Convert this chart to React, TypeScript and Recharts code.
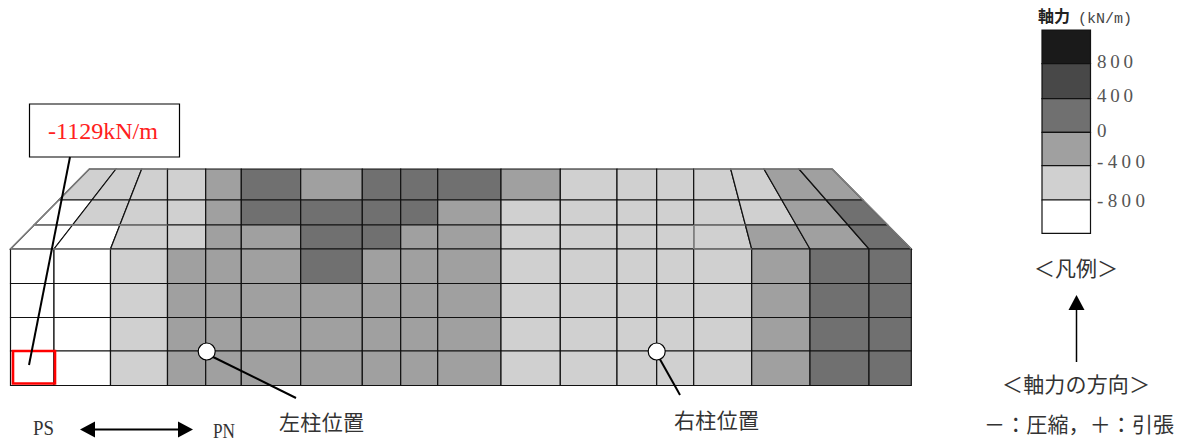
import { ComposedChart, XAxis, YAxis, Line, ReferenceArea, ReferenceLine, ReferenceDot } from "recharts"

const WIDTH = 1187
const HEIGHT = 443

// Force bands, from the weakest to the strongest (white = below -800)
const bandColors = ["#ffffff", "#d0d0d0", "#a0a0a0", "#707070", "#484848", "#1a1a1a"]
const legendTicks = ["800", "400", "0", "-400", "-800"]

// Mesh edges: front face of the wall and far edge of the top face
const frontEdges = [10.5, 54, 110.5, 167.5, 205.7, 241.3, 300.7, 362.3, 400.7, 437.7, 501, 560.3, 617, 656.7, 693.7, 751.7, 810, 869, 911.3]
const backEdges = [89.3, 116, 141.7, 167.5, 205.7, 241.3, 300.7, 362.3, 400.7, 437.7, 501, 560.3, 617, 656.7, 693.7, 730.7, 764, 799, 832.3]
const topRowEdges = [169, 200, 225, 249]
const frontRowEdges = [249, 283.5, 317.5, 351, 385.5]

// Band index of each cell, one list per row
const topRow1 = [1, 1, 1, 1, 2, 3, 2, 3, 3, 3, 2, 1, 1, 1, 1, 1, 2, 2]
const topRow2 = [0, 1, 1, 1, 2, 3, 3, 3, 3, 2, 1, 1, 1, 1, 1, 1, 2, 3]
const topRow3 = [0, 0, 1, 1, 2, 2, 3, 3, 2, 2, 1, 1, 1, 1, 1, 2, 2, 3]
const frontRow1 = [0, 0, 1, 2, 2, 2, 3, 2, 2, 2, 1, 1, 1, 1, 1, 2, 3, 3]
const frontRow2 = [0, 0, 1, 2, 2, 2, 2, 2, 2, 2, 1, 1, 1, 1, 1, 2, 3, 3]
const frontRow3 = [0, 0, 1, 2, 2, 2, 2, 2, 2, 2, 1, 1, 1, 1, 1, 2, 3, 3]
const frontRow4 = [0, 0, 1, 2, 2, 2, 2, 2, 2, 2, 1, 1, 1, 1, 1, 2, 3, 3]

const topRows = [topRow1, topRow2, topRow3]
const frontRows = [frontRow1, frontRow2, frontRow3, frontRow4]

const edgeAt = (col: number, y: number) => {
  const t = (249 - y) / (249 - 169)
  return frontEdges[col] + (backEdges[col] - frontEdges[col]) * t
}

const topCells = topRows.flatMap((row, r) =>
  row.map((band, c) => ({
    band,
    y0: topRowEdges[r],
    y1: topRowEdges[r + 1],
    a: edgeAt(c, topRowEdges[r]),
    b: edgeAt(c + 1, topRowEdges[r]),
    d: edgeAt(c, topRowEdges[r + 1]),
    e: edgeAt(c + 1, topRowEdges[r + 1]),
  }))
)

// Edges that look washed out in the original drawing
const softEdges = [
  [10.5, 249, 89.3, 169],
  [89.3, 169, 167.5, 169],
  [693.7, 169, 832.3, 169],
  [832.3, 169, 911.3, 249],
  [10.5, 249, 110.5, 249],
  [edgeAt(0, 225), 225, 167.5, 225],
  [693.7, 225, edgeAt(15, 225), 225],
  [693.7, 225, 693.7, 249],
  [693.7, 249, 751.7, 249],
]

const serif = "'Liberation Serif', serif"
const cjk = "'Noto Sans CJK JP', sans-serif"
const mono = "'Liberation Mono', monospace"

// Text notes around the wall
const notes = [
  { x: 48, y: 139, text: "-1129kN/m", size: 23, fill: "#ff2020", font: serif, len: 110 },
  { x: 33, y: 435, text: "PS", size: 20, fill: "#333", font: serif, len: 21 },
  { x: 213, y: 438, text: "PN", size: 20, fill: "#333", font: serif, len: 22 },
  { x: 279, y: 430, text: "左柱位置", size: 21, fill: "#333", font: cjk, len: 85 },
  { x: 674, y: 428, text: "右柱位置", size: 21, fill: "#333", font: cjk, len: 85 },
  { x: 1034, y: 276, text: "＜凡例＞", size: 21, fill: "#333", font: cjk, len: 84 },
  { x: 1002, y: 392, text: "＜軸力の方向＞", size: 21, fill: "#333", font: cjk, len: 148 },
  { x: 984, y: 432, text: "－：圧縮，＋：引張", size: 21, fill: "#333", font: cjk, len: 190 },
  { x: 1078, y: 23, text: "(kN/m)", size: 15, fill: "#444", font: mono, len: 54 },
]

const legendTickY = [68, 102, 137, 168, 207]
const legendEdges = [30, 63.7, 98.7, 132.3, 165.7, 200, 233.3]

// Corners of the drawing, they keep the number axes alive
const frame = [
  { x: 0, y: 0 },
  { x: WIDTH, y: HEIGHT },
]

export default function App() {
  return (
    <div style={{ position: "absolute", left: 0, top: 0, width: WIDTH, height: HEIGHT }}>
      <ComposedChart width={WIDTH} height={HEIGHT} data={frame} margin={{ top: 0, right: 0, bottom: 0, left: 0 }}>
        <XAxis type="number" dataKey="x" domain={[0, WIDTH]} hide />
        <YAxis type="number" dataKey="y" domain={[0, HEIGHT]} reversed hide />
        <Line dataKey="y" stroke="none" dot={false} isAnimationActive={false} />

        {/* Top face, trapezoids fitted inside their bounding box */}
        {topCells.map((c, i) => {
          const minX = Math.min(c.a, c.d)
          const maxX = Math.max(c.b, c.e)
          return (
            <ReferenceArea
              key={`top-${i}`}
              x1={minX}
              x2={maxX}
              y1={c.y0}
              y2={c.y1}
              shape={(p: any) => {
                const px = (v: number) => p.x + ((v - minX) / (maxX - minX)) * p.width
                const pts = [
                  [px(c.a), p.y],
                  [px(c.b), p.y],
                  [px(c.e), p.y + p.height],
                  [px(c.d), p.y + p.height],
                ]
                return <polygon points={pts.map((q) => q.join(",")).join(" ")} fill={bandColors[c.band]} stroke="#111" strokeWidth={1.2} />
              }}
            />
          )
        })}

        {/* Front face */}
        {frontRows.flatMap((row, r) =>
          row.map((band, c) => (
            <ReferenceArea
              key={`front-${r}-${c}`}
              x1={frontEdges[c]}
              x2={frontEdges[c + 1]}
              y1={frontRowEdges[r]}
              y2={frontRowEdges[r + 1]}
              fill={bandColors[band]}
              fillOpacity={1}
              stroke="#111"
              strokeWidth={1.2}
            />
          ))
        )}

        {/* Max compression cell */}
        <ReferenceArea x1={13} x2={55} y1={351} y2={383.5} fill="none" fillOpacity={0} stroke="#ff0000" strokeWidth={2.6} />

        {/* Legend */}
        {legendEdges.slice(0, -1).map((y, i) => (
          <ReferenceArea
            key={`band-${i}`}
            x1={1042}
            x2={1090.5}
            y1={y}
            y2={legendEdges[i + 1]}
            fill={bandColors[5 - i]}
            fillOpacity={1}
            stroke="#111"
            strokeWidth={1.2}
          />
        ))}

        {softEdges.map(([x1, y1, x2, y2], i) => (
          <ReferenceLine key={`soft-${i}`} segment={[{ x: x1, y: y1 }, { x: x2, y: y2 }]} stroke="#808080" strokeWidth={1.4} />
        ))}

        {/* Leader lines and arrow shafts */}
        <ReferenceLine segment={[{ x: 70, y: 157 }, { x: 29, y: 365 }]} stroke="#000" strokeWidth={2} />
        <ReferenceLine segment={[{ x: 207, y: 354 }, { x: 296, y: 398 }]} stroke="#000" strokeWidth={2} />
        <ReferenceLine segment={[{ x: 657, y: 354 }, { x: 680, y: 395 }]} stroke="#000" strokeWidth={2} />
        <ReferenceLine segment={[{ x: 90, y: 429.5 }, { x: 183, y: 429.5 }]} stroke="#000" strokeWidth={2} />
        <ReferenceLine segment={[{ x: 1076.5, y: 362 }, { x: 1076.5, y: 305 }]} stroke="#000" strokeWidth={1.5} />

        {/* Column positions */}
        <ReferenceDot x={206.7} y={351.5} r={8.5} fill="#fff" stroke="#000" strokeWidth={1.2} />
        <ReferenceDot x={656.7} y={351.5} r={8.5} fill="#fff" stroke="#000" strokeWidth={1.2} />

        {/* Arrow heads */}
        <ReferenceDot x={80} y={429.5} r={1} shape={(p: any) => <polygon points={`${p.cx},${p.cy} ${p.cx + 15},${p.cy - 8} ${p.cx + 15},${p.cy + 8}`} fill="#000" />} />
        <ReferenceDot x={193} y={429.5} r={1} shape={(p: any) => <polygon points={`${p.cx},${p.cy} ${p.cx - 15},${p.cy - 8} ${p.cx - 15},${p.cy + 8}`} fill="#000" />} />
        <ReferenceDot x={1076.5} y={295} r={1} shape={(p: any) => <polygon points={`${p.cx},${p.cy} ${p.cx - 8},${p.cy + 15} ${p.cx + 8},${p.cy + 15}`} fill="#000" />} />

        {/* Callout box */}
        <ReferenceArea x1={29.5} x2={179.5} y1={104} y2={157} fill="#fff" fillOpacity={1} stroke="#000" strokeWidth={1.2} />

        {/* Texts */}
        {notes.map((n) => (
          <ReferenceDot
            key={n.text}
            x={n.x}
            y={n.y}
            r={1}
            shape={(p: any) => (
              <text
                x={p.cx}
                y={p.cy}
                fontSize={n.size}
                fontFamily={n.font}
                fill={n.fill}
                textLength={n.len}
                lengthAdjust={n.font === serif ? "spacingAndGlyphs" : "spacing"}
              >
                {n.text}
              </text>
            )}
          />
        ))}
        <ReferenceDot
          x={1038}
          y={22}
          r={1}
          shape={(p: any) => (
            <text x={p.cx} y={p.cy} fontSize={16} fontWeight={700} fontFamily={cjk} fill="#222">
              軸力
            </text>
          )}
        />
        {legendTicks.map((t, i) => (
          <ReferenceDot
            key={t}
            x={1097}
            y={legendTickY[i]}
            r={1}
            shape={(p: any) => (
              <text x={p.cx} y={p.cy} fontSize={19} fontFamily={serif} fill="#555" textLength={t.length * 12} lengthAdjust="spacing">
                {t}
              </text>
            )}
          />
        ))}
      </ComposedChart>
    </div>
  )
}
